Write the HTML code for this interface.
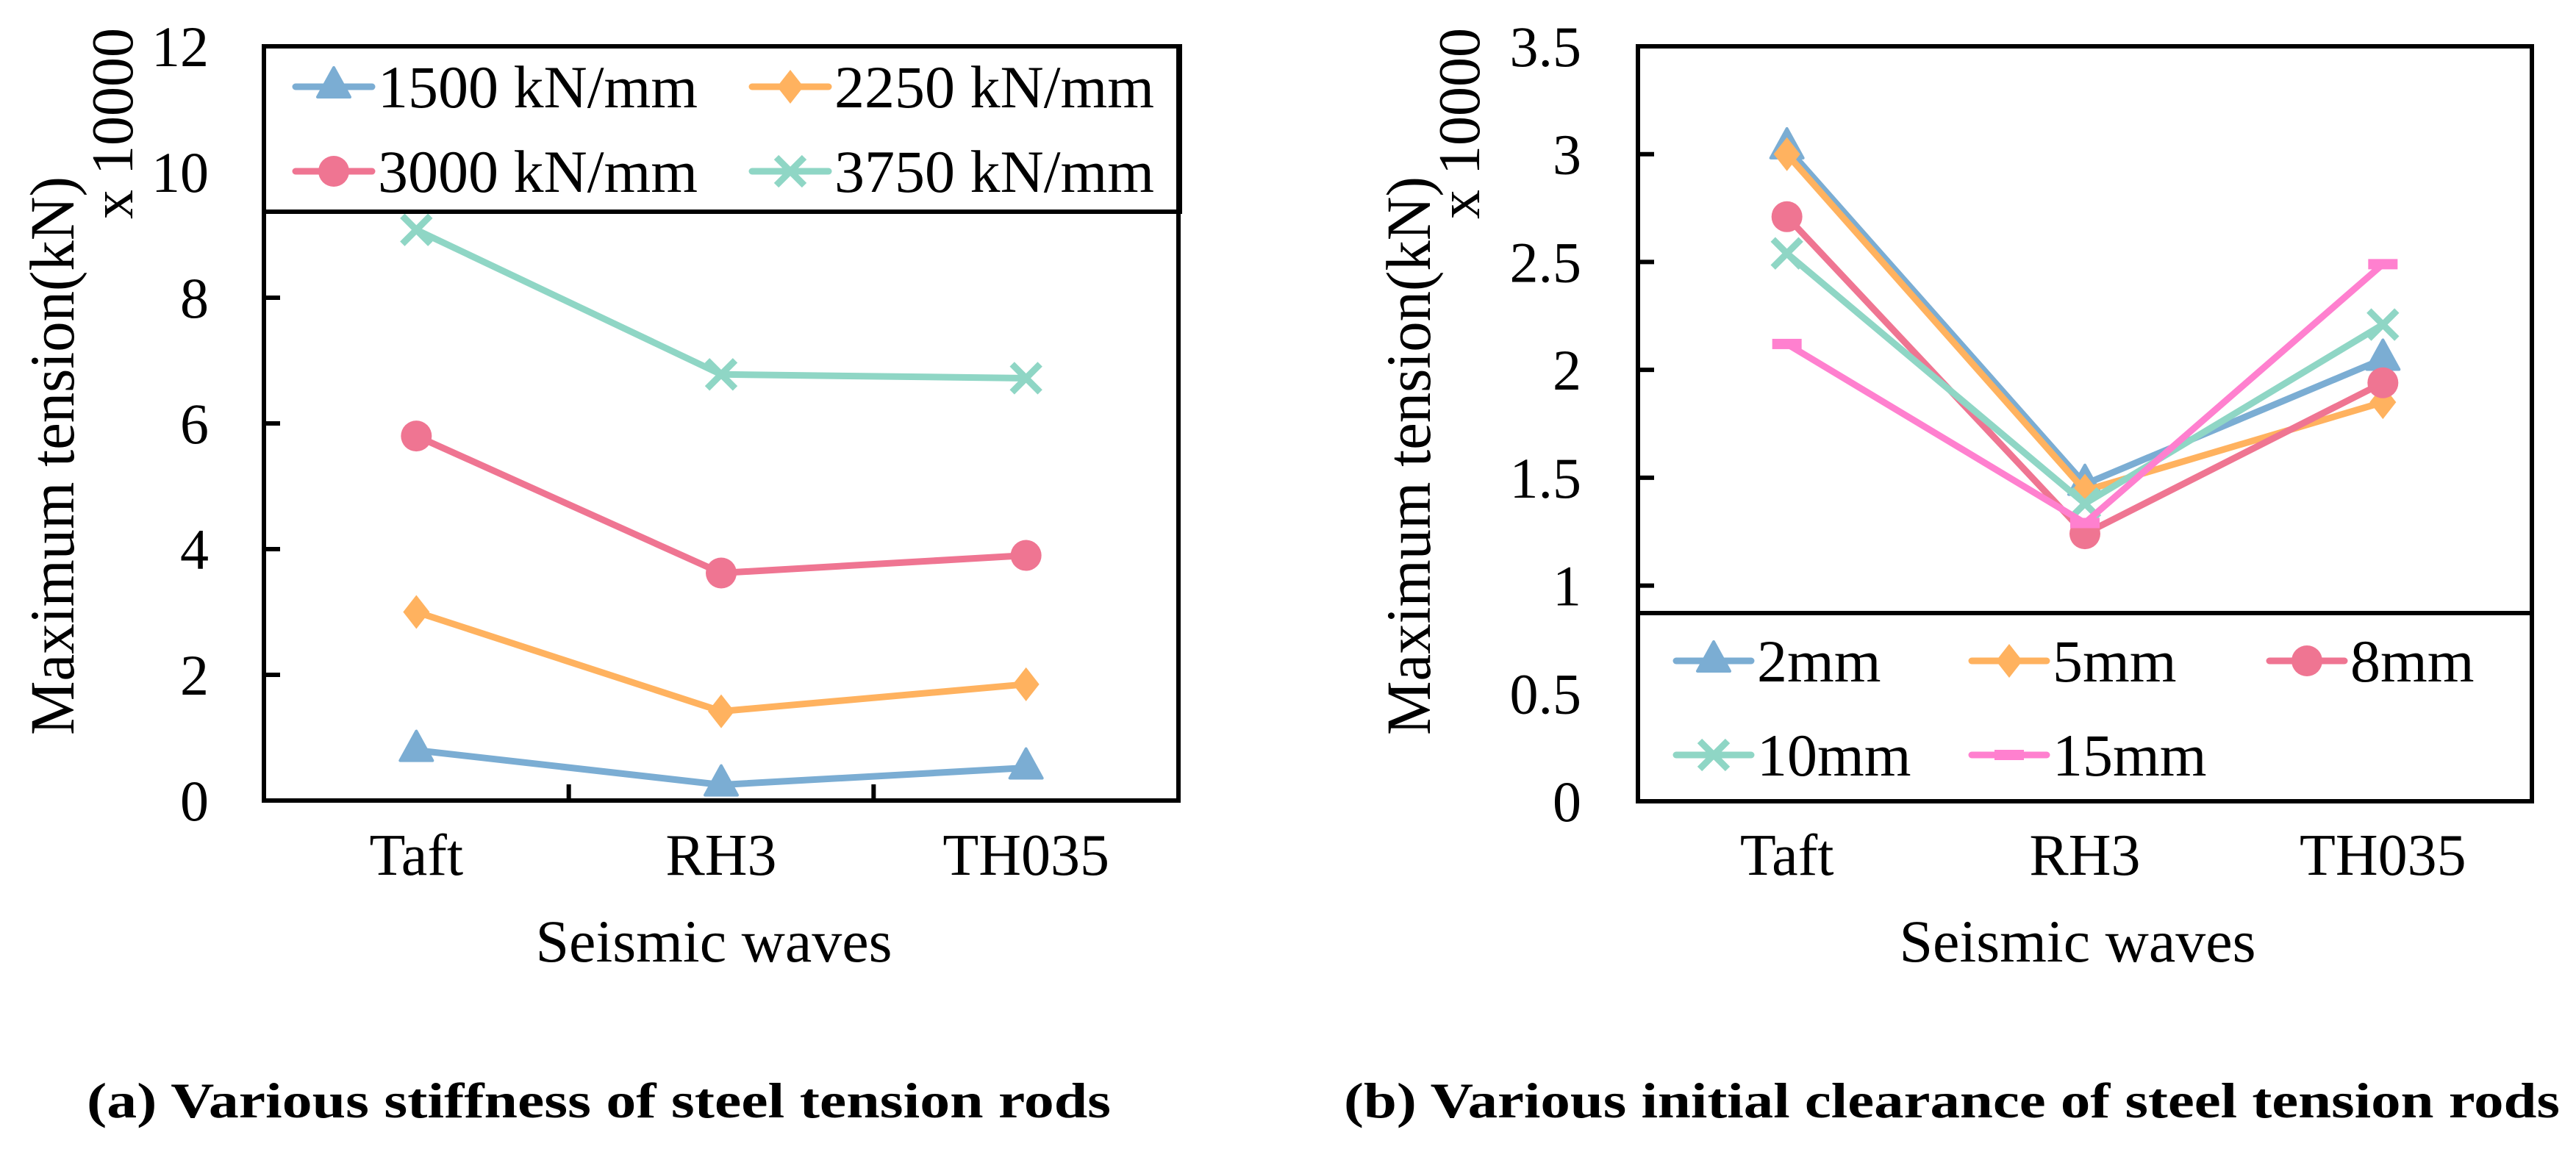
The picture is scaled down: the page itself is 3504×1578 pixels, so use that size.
<!DOCTYPE html>
<html><head><meta charset="utf-8"><style>
html,body{margin:0;padding:0;background:#fff;}
svg{display:block;font-family:"Liberation Serif",serif;}
</style></head><body>
<svg id="fig" xmlns="http://www.w3.org/2000/svg" width="3504" height="1578" viewBox="0 0 3504 1578">
<rect width="3504" height="1578" fill="#fff"/>
<g id="chartA"></g>
<g id="chartB"></g>
<text x="118" y="1520" font-size="68" font-weight="bold" textLength="1393" lengthAdjust="spacingAndGlyphs">(a) Various stiffness of steel tension rods</text>
<text x="1828" y="1520" font-size="68" font-weight="bold" textLength="1654" lengthAdjust="spacingAndGlyphs">(b) Various initial clearance of steel tension rods</text>
</svg>
<script>
const categories = ["Taft", "RH3", "TH035"];
const seriesA_names = ["1500 kN/mm", "2250 kN/mm", "3000 kN/mm", "3750 kN/mm"];
const seriesA_1500 = [0.8, 0.25, 0.52];
const seriesA_2250 = [3.0, 1.42, 1.85];
const seriesA_3000 = [5.8, 3.62, 3.9];
const seriesA_3750 = [9.08, 6.78, 6.72];
const ticksA = [0, 2, 4, 6, 8, 10, 12];
const seriesB_names = ["2mm", "5mm", "8mm", "10mm", "15mm"];
const seriesB_2 = [3.03, 1.47, 2.05];
const seriesB_5 = [3.0, 1.44, 1.85];
const seriesB_8 = [2.71, 1.24, 1.94];
const seriesB_10 = [2.54, 1.38, 2.21];
const seriesB_15 = [2.12, 1.29, 2.49];
const ticksB = [0, 0.5, 1, 1.5, 2, 2.5, 3, 3.5];

const NS = "http://www.w3.org/2000/svg";
function mk(parent, tag, attrs, text) {
  const e = document.createElementNS(NS, tag);
  for (const k in attrs) e.setAttribute(k, attrs[k]);
  if (text !== undefined) e.textContent = text;
  parent.appendChild(e);
  return e;
}
function marker(g, type, x, y, color) {
  let m;
  if (type === "tri") m = mk(g, "polygon", {points: `${x},${y-26} ${x-22},${y+14} ${x+22},${y+14}`, fill: color, stroke: color, "stroke-width": 4, "stroke-linejoin": "round"});
  else if (type === "dia") m = mk(g, "polygon", {points: `${x},${y-23} ${x+18},${y} ${x},${y+23} ${x-18},${y}`, fill: color});
  else if (type === "circ") m = mk(g, "circle", {cx: x, cy: y, r: 21, fill: color});
  else if (type === "x") m = mk(g, "path", {d: `M${x-19},${y-19}L${x+19},${y+19}M${x-19},${y+19}L${x+19},${y-19}`, stroke: color, "stroke-width": 9, fill: "none"});
  else m = mk(g, "rect", {x: x-20, y: y-7, width: 40, height: 14, fill: color});
  
  
  return m;
}

function drawChart(g, cfg) {
  const {L, R, T, B, ymax, ticks, series, names, types, colors, fmt} = cfg;
  const xs = i => L + (R - L) * (i + 0.5) / categories.length;
  const ys = v => B - (B - T) * v / ymax;
  series.forEach((s, si) => {
    const sg = mk(g, "g", {});
    
    
    const pl = mk(sg, "polyline", {points: s.map((v, i) => xs(i) + "," + ys(v)).join(" "), fill: "none", stroke: colors[si], "stroke-width": 9, "stroke-linejoin": "round"});
    
    
    s.forEach((v, i) => marker(sg, types[si], xs(i), ys(v), colors[si]));
  });
  const box = mk(g, "rect", {x: L, y: T, width: R - L, height: B - T, fill: "none", stroke: "#000", "stroke-width": 6});
  
  
  ticks.forEach(t => {
    const y = ys(t);
    const tk = mk(g, "line", {x1: L, x2: L + 22, y1: y, y2: y, stroke: "#000", "stroke-width": 6});
    
    
    const lb = mk(g, "text", {x: cfg.tickRight, y: y + 27, "font-size": 78, "text-anchor": "end"}, fmt(t));
    
    
  });
  for (let i = 1; i < categories.length; i++) {
    const x = L + (R - L) * i / categories.length;
    const tk = mk(g, "line", {x1: x, x2: x, y1: B, y2: B - 22, stroke: "#000", "stroke-width": 6});
    
    
  }
  categories.forEach((c, i) => {
    const lb = mk(g, "text", {x: xs(i), y: 1190, "font-size": 80, "text-anchor": "middle"}, c);
    
    
  });
  const xt = mk(g, "text", {x: (L + R) / 2 - 10, y: 1308, "font-size": 82, "text-anchor": "middle"}, "Seismic waves");
  
  
  const yt = mk(g, "text", {x: 0, y: 0, "font-size": 86, "text-anchor": "middle", textLength: 760, lengthAdjust: "spacingAndGlyphs", transform: `translate(${cfg.ytX},${cfg.ytY}) rotate(-90)`}, "Maximum tension(kN)");
  
  
  const sc = mk(g, "text", {x: 0, y: 0, "font-size": 80, "text-anchor": "middle", transform: `translate(${cfg.scX},168) rotate(-90)`}, "x 10000");
  
  
  const lg = mk(g, "g", {});
  
  
  const lr = cfg.legend;
  const lbx = mk(lg, "rect", {x: lr.x, y: lr.y, width: lr.w, height: lr.h, fill: "#fff", stroke: "#000", "stroke-width": 6});
  
  
  names.forEach((n, i) => {
    const [lx, ly] = lr.pos[i];
    const eg = mk(lg, "g", {});
    
    
    mk(eg, "line", {x1: lx, x2: lx + lr.len, y1: ly, y2: ly, stroke: colors[i], "stroke-width": 9, "stroke-linecap": "round"});
    marker(eg, types[i], lx + lr.len / 2, ly, colors[i]);
    const t = mk(eg, "text", {x: lx + lr.len + 8, y: ly + 28, "font-size": lr.fs}, n);
    
    
  });
  const fr = mk(g, "rect", {x: L, y: T, width: R - L, height: B - T, fill: "none", stroke: "#000", "stroke-width": 6});
  
  
}

drawChart(document.getElementById("chartA"), {
  L: 359, R: 1603, T: 63, B: 1089, ymax: 12, ticks: ticksA, tickRight: 284,
  series: [seriesA_1500, seriesA_2250, seriesA_3000, seriesA_3750],
  names: seriesA_names, types: ["tri", "dia", "circ", "x"],
  colors: ["#7badd3", "#ffb25f", "#ef7592", "#8fd6c5"],
  fmt: t => String(t), ytX: 100, ytY: 620, scX: 180,
  legend: {x: 359, y: 63, w: 1246, h: 225, len: 104, fs: 82,
    pos: [[402, 118], [1023, 118], [402, 233], [1023, 233]]}
});
drawChart(document.getElementById("chartB"), {
  L: 2228, R: 3444, T: 63, B: 1090, ymax: 3.5, ticks: ticksB, tickRight: 2151,
  series: [seriesB_2, seriesB_5, seriesB_8, seriesB_10, seriesB_15],
  names: seriesB_names, types: ["tri", "dia", "circ", "x", "rect"],
  colors: ["#7badd3", "#ffb25f", "#ef7592", "#8fd6c5", "#ff80cf"],
  fmt: t => String(t), ytX: 1945, ytY: 620, scX: 2012,
  legend: {x: 2228, y: 834, w: 1216, h: 256, len: 102, fs: 82,
    pos: [[2280, 899], [2682, 899], [3087, 899], [2280, 1027], [2682, 1027]]}
});
</script>
</body></html>
